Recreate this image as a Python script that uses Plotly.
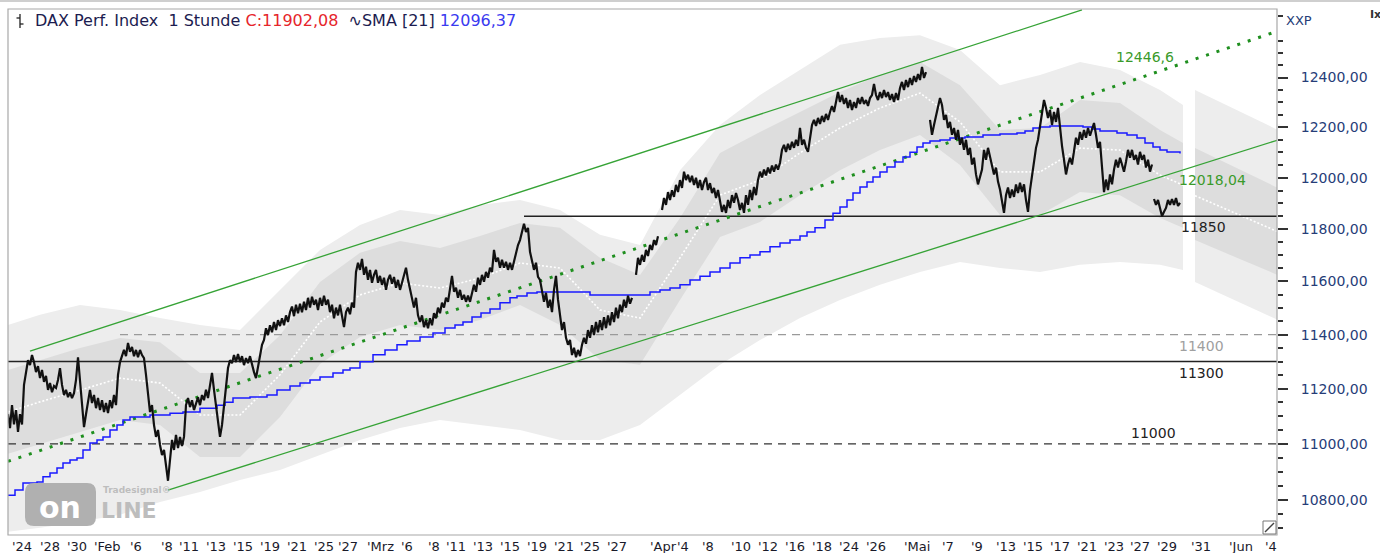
import math
import plotly.graph_objects as go

# ---------------- data ----------------
# hourly DAX path, sampled every 2 time slots, split into segments at the gaps
seg_a_start = 8
seg_a = [11107, 11057, 11140, 11070, 11122, 11043, 11107, 11070, 11214, 11269,
         11305, 11287, 11324, 11298, 11261, 11283, 11239, 11269, 11225, 11247,
         11196, 11221, 11187, 11210, 11203, 11232, 11276, 11214, 11177, 11196,
         11169, 11187, 11166, 11184, 11232,
         11316, 11232, 11122, 11060, 11107, 11158, 11196, 11148, 11177, 11129,
         11166, 11122, 11158, 11115, 11148, 11111, 11158, 11129, 11177, 11140,
         11251, 11298, 11324, 11343, 11320, 11369, 11336, 11354, 11320, 11343,
         11316, 11343, 11324, 11313, 11251, 11177, 11115, 11140, 11068, 11025,
         11050, 10996, 10960, 10978, 10925, 10868, 10942, 11014, 10978, 11032,
         10985, 11025, 10992, 11025, 11140, 11166, 11133, 11158, 11122, 11151,
         11169, 11140, 11177, 11158, 11196, 11166, 11214, 11258, 11196, 11140,
         11086, 11025, 11068, 11140, 11214, 11276, 11305, 11294, 11324, 11298,
         11328, 11298, 11320, 11287, 11313, 11294, 11320, 11287, 11261, 11239,
         11276, 11313, 11362, 11380, 11424, 11398, 11435, 11409, 11447, 11417,
         11454, 11432, 11461, 11435, 11472, 11447, 11484, 11505, 11469, 11512,
         11480, 11516, 11484, 11523, 11492, 11538, 11501, 11542, 11512, 11531,
         11492, 11538, 11508, 11546, 11512, 11531, 11484, 11512, 11461, 11501,
         11472, 11512, 11461, 11428, 11484, 11501, 11476, 11520, 11501, 11636,
         11671, 11644, 11686, 11625, 11656, 11606, 11644, 11595, 11625, 11644,
         11595, 11621, 11587, 11614, 11568, 11606, 11625, 11591, 11617, 11576,
         11606, 11568, 11595, 11625, 11652, 11606, 11568, 11531, 11501, 11538,
         11472, 11447, 11472, 11428, 11454, 11424, 11461, 11435, 11480, 11461,
         11501, 11480, 11520, 11501, 11538, 11523, 11568, 11621, 11561, 11576,
         11538, 11568, 11531, 11549, 11523, 11546, 11523, 11561, 11587, 11561,
         11614, 11587, 11625, 11599, 11636, 11614, 11652, 11636, 11720, 11675,
         11690, 11652, 11682, 11652, 11675, 11644, 11671, 11644, 11675, 11701,
         11739, 11758, 11789, 11821, 11789, 11805, 11713, 11675, 11644, 11671,
         11617, 11606, 11568, 11523, 11557, 11501, 11531, 11484, 11568, 11621,
         11531, 11461, 11417, 11447, 11388, 11362, 11380, 11324, 11351, 11316,
         11343, 11320, 11362, 11388, 11366, 11417, 11388, 11435, 11398, 11447,
         11409, 11454, 11417, 11465, 11424, 11472, 11435, 11484, 11447, 11501,
         11461, 11512, 11484, 11531, 11501, 11546, 11516, 11538]
seg_b_start = 636
seg_b = [11625, 11690, 11663, 11701, 11675, 11720, 11697, 11739, 11720, 11758,
         11739, 11773]
seg_c_start = 662
seg_c = [11874, 11921, 11894, 11944, 11913, 11951, 11925, 11972, 11944, 11991,
         11960, 12024, 11991, 12012, 11983, 12008, 11972, 12000, 11960, 11991,
         11952, 11983, 12000, 11952, 11979, 11940, 11960, 11921, 11952, 11913,
         11867, 11894, 11863, 11913, 11882, 11932, 11902, 11940, 11913, 11874,
         11902, 11863, 11932, 11894, 11952, 11913, 11964, 11932, 11991,
         12024, 12001, 12032, 12009, 12040, 12017, 12048, 12024, 12052, 12032,
         12059, 12110, 12130, 12102, 12134, 12110, 12142, 12118, 12150, 12126,
         12197, 12130, 12150, 12118, 12102, 12150, 12209, 12229, 12205, 12237,
         12213, 12245, 12221, 12253, 12229, 12261, 12285, 12261, 12309, 12341,
         12301, 12329, 12293, 12317, 12277, 12309, 12269, 12301, 12277, 12317,
         12293, 12321, 12293, 12309, 12285, 12317, 12329, 12374, 12329, 12309,
         12341, 12317, 12349, 12321, 12341, 12309, 12333, 12301, 12337, 12309,
         12357, 12382, 12349, 12390, 12361, 12398, 12370, 12406, 12382, 12414,
         12390, 12443, 12398, 12422]
seg_d_start = 930
seg_d = [12229, 12170, 12209, 12249, 12289, 12317, 12289, 12229, 12249, 12197,
         12221, 12170, 12197, 12150, 12189, 12130, 12158, 12110, 12150, 12090,
         12118, 12052, 12079, 12013, 11974, 12001, 12032, 12110, 12071, 12118,
         12079, 12052, 12013, 12040, 11985, 11954, 11913, 11863, 11932, 11962,
         11921, 11954, 11925, 11974, 11940, 11981, 11944, 11974, 11913, 11867,
         11952, 12013, 12071, 12118, 12150, 12209, 12269, 12309, 12277, 12237,
         12269, 12209, 12261, 12221, 12277, 12197, 12126, 12071, 12013, 12052,
         12079, 12052, 12110, 12158, 12130, 12181, 12150, 12189, 12158, 12197,
         12166, 12189, 12217, 12170, 12118, 12142, 12052, 11944, 11993, 11952,
         12013, 11974, 12032, 12071, 12040, 12079, 12052, 12024, 12063, 12110,
         12079, 12110, 12071, 12090, 12052, 12102, 12071, 12090, 12040, 12071,
         12024, 12052]
seg_e_start = 1154
seg_e = [11917, 11894, 11913, 11874, 11850, 11867, 11882, 11913, 11894, 11917,
         11894, 11921, 11890, 11902]

# SMA 21 (step values)
sma_x = [8, 15, 23, 37, 43, 50, 57, 63, 70, 77, 83, 90, 97, 103, 110, 117, 123,
         130, 150, 170, 183, 200, 217, 225, 233, 250, 267, 277, 290, 300, 310,
         320, 333, 343, 350, 360, 373, 385, 397, 407, 420, 433, 445, 455, 463,
         472, 481, 490, 500, 510, 517, 527, 537, 590, 650, 660, 670, 680, 690,
         700, 710, 720, 730, 740, 750, 760, 770, 780, 790, 800, 807, 815, 825,
         833, 840, 847, 853, 860, 867, 873, 880, 887, 895, 903, 910, 917, 923,
         930, 940, 950, 965, 983, 1000, 1017, 1025, 1033, 1040, 1050, 1083,
         1092, 1100, 1117, 1127, 1137, 1145, 1153, 1160, 1167, 1180]
sma_y = [10817, 10835, 10860, 10864, 10882, 10896, 10913, 10931, 10942, 10949,
         10978, 11003, 11014, 11025, 11050, 11068, 11086, 11097, 11104, 11111,
         11115, 11129, 11140, 11151, 11166, 11170, 11177, 11195, 11210, 11221,
         11232, 11243, 11258, 11269, 11276, 11299, 11325, 11343, 11362, 11376,
         11391, 11406, 11425, 11436, 11447, 11466, 11481, 11496, 11519, 11538,
         11545, 11556, 11560, 11549, 11560, 11568, 11575, 11587, 11605, 11620,
         11636, 11651, 11670, 11690, 11701, 11713, 11732, 11747, 11758, 11774,
         11789, 11805, 11835, 11862, 11886, 11913, 11940, 11964, 11983, 12003,
         12023, 12042, 12062, 12082, 12101, 12121, 12137, 12145, 12149, 12157,
         12161, 12169, 12173, 12177, 12185, 12197, 12201, 12205, 12201, 12193,
         12185, 12177, 12169, 12157, 12137, 12121, 12109, 12102, 12096]

# volatility bands (outer / inner envelope and centre)
band_x = [8, 40, 80, 120, 160, 200, 240, 280, 320, 360, 400, 440, 480, 520, 560,
          600, 640, 680, 720, 760, 800, 840, 880, 920, 960, 1000, 1040, 1080,
          1120, 1160, 1183]
outer_hi = [11436, 11474, 11511, 11492, 11462, 11436, 11417, 11568, 11720, 11816,
            11874, 11855, 11894, 11913, 11874, 11778, 11739, 12030, 12209, 12329,
            12430, 12533, 12561, 12573, 12512, 12369, 12410, 12463, 12430, 12349,
            12289]
outer_lo = [10688, 10702, 10723, 10748, 10793, 10828, 10871, 10906, 10960, 11014,
            11057, 11086, 11068, 11050, 11014, 11014, 11068, 11177, 11288, 11380,
            11462, 11530, 11587, 11636, 11674, 11651, 11636, 11663, 11674, 11663,
            11643]
inner_hi = [11269, 11306, 11350, 11387, 11372, 11258, 11258, 11398, 11598, 11709,
            11754, 11728, 11774, 11824, 11805, 11690, 11624, 11843, 12098, 12181,
            12261, 12341, 12410, 12463, 12369, 12189, 12197, 12309, 12297, 12189,
            12137]
center = [11115, 11152, 11195, 11239, 11221, 11104, 11104, 11251, 11447, 11549,
          11594, 11575, 11613, 11670, 11651, 11492, 11462, 11690, 11932, 11991,
          12098, 12197, 12277, 12337, 12221, 12023, 12023, 12117, 12109, 12011,
          11971]
inner_lo = [10964, 10999, 11043, 11086, 11068, 10953, 10953, 11097, 11291, 11391,
            11436, 11417, 11455, 11511, 11436, 11306, 11288, 11530, 11770, 11828,
            11932, 12030, 12109, 12169, 12050, 11855, 11855, 11944, 11932, 11843,
            11805]
# projection cone right of the last bar
fc_x = [1195, 1278]
fc_outer_hi = [12349, 12189]
fc_inner_hi = [12117, 11960]
fc_center = [11930, 11790]
fc_inner_lo = [11758, 11624]
fc_outer_lo = [11598, 11455]

# trend channel and regression line
chan_up_x, chan_up_y = [30, 1082], [11339, 12677]
chan_lo_x, chan_lo_y = [168, 1278], [10835, 12149]
mid_x, mid_y = [8, 1278], [10937, 12590]

# horizontal levels
lvl_11850_x = [524, 1278]
lvl_11400_x = [120, 1278]
lvl_full_x = [8, 1278]

y_ticks = [10800, 11000, 11200, 11400, 11600, 11800, 12000, 12200, 12400]
x_tick_pos = [10, 38, 65, 92, 128, 159, 177, 204, 231, 258, 285, 312, 336, 365, 399,
              426, 444, 471, 498, 525, 552, 578, 605, 648, 675, 700, 729, 756, 783,
              810, 837, 864, 902, 940, 969, 994, 1021, 1048, 1075, 1102, 1128, 1155,
              1189, 1227, 1263]
x_tick_text = ['24', '28', '30', 'Feb', '6', '8', '11', '13', '15', '19', '21', '25',
               '27', 'Mrz', '6', '8', '11', '13', '15', '19', '21', '25', '27', 'Apr',
               '4', '8', '10', '12', '16', '18', '24', '26', 'Mai', '7', '9', '13',
               '15', '17', '21', '23', '27', '29', '31', 'Jun', '4']

# ---------------- layout helpers ----------------
W, H = 1380, 553
ML, MR, MT, MB = 8, 103, 9, 18
PW, PH = W - ML - MR, H - MT - MB


def px2x(px):
    return (px - ML) / PW


def py2y(py):
    return (H - MB - py) / PH


FONT = "DejaVu Sans"
NAVY = "#263d78"

price_x, price_y = [], []
for start, seg in [(seg_a_start, seg_a), (seg_b_start, seg_b), (seg_c_start, seg_c),
                   (seg_d_start, seg_d), (seg_e_start, seg_e)]:
    if price_x:
        price_x.append(start - 1)
        price_y.append(None)
    price_x.extend(range(start, start + 2 * len(seg), 2))
    price_y.extend(seg)

fig = go.Figure()


def band(xs, lo, hi, color):
    fig.add_trace(go.Scatter(x=xs, y=lo, mode="lines", line=dict(width=0),
                             hoverinfo="skip", showlegend=False))
    fig.add_trace(go.Scatter(x=xs, y=hi, mode="lines", line=dict(width=0),
                             fill="tonexty", fillcolor=color, hoverinfo="skip",
                             showlegend=False))


band(band_x, outer_lo, outer_hi, "#ededed")
band(fc_x, fc_outer_lo, fc_outer_hi, "#ededed")
band(band_x, inner_lo, inner_hi, "#dddddd")
band(fc_x, fc_inner_lo, fc_inner_hi, "#dddddd")
for xs, ys in [(band_x, center), (fc_x, fc_center)]:
    fig.add_trace(go.Scatter(x=xs, y=ys, mode="lines",
                             line=dict(color="#ffffff", width=1.6, dash="2px,2px"),
                             showlegend=False))


def hline(xs, level, color, width, dash="solid"):
    fig.add_trace(go.Scatter(x=xs, y=[level, level], mode="lines",
                             line=dict(color=color, width=width, dash=dash),
                             showlegend=False))


hline(lvl_11400_x, 11400, "#9a9a9a", 1.2, "8px,6px")
hline(lvl_full_x, 11000, "#333333", 1.2, "8px,6px")
hline(lvl_full_x, 11300, "#222222", 1.5)
hline(lvl_11850_x, 11850, "#222222", 1.5)

fig.add_trace(go.Scatter(x=chan_up_x, y=chan_up_y, mode="lines",
                         line=dict(color="#36a336", width=1.3), showlegend=False))
fig.add_trace(go.Scatter(x=chan_lo_x, y=chan_lo_y, mode="lines",
                         line=dict(color="#36a336", width=1.3), showlegend=False))
fig.add_trace(go.Scatter(x=mid_x, y=mid_y, mode="lines",
                         line=dict(color="#1f8f1f", width=3, dash="3px,8px"),
                         showlegend=False))

fig.add_trace(go.Scatter(x=sma_x, y=sma_y, mode="lines", line_shape="hv",
                         line=dict(color="#1a1aff", width=1.5), showlegend=False))
fig.add_trace(go.Scatter(x=price_x, y=price_y, mode="lines", connectgaps=False,
                         line=dict(color="#111111", width=2.2), showlegend=False))

minor_vals = [v for v in range(10700, 12700, 50) if v % 200 != 0]

fig.update_layout(
    width=W, height=H, margin=dict(l=ML, r=MR, t=MT, b=MB),
    paper_bgcolor="white", plot_bgcolor="white", showlegend=False,
    font=dict(family=FONT, size=13, color=NAVY),
    xaxis=dict(range=[ML, W - MR], showgrid=False, zeroline=False,
               showticklabels=False, ticks="", fixedrange=True),
    yaxis=dict(type="log", side="right",
               range=[math.log10(10676.9), math.log10(12680.9)],
               tickvals=y_ticks,
               ticktext=[f"{v:.2f}".replace(".", ",") for v in y_ticks],
               tickfont=dict(family=FONT, size=14, color=NAVY),
               ticks="outside", ticklen=10, tickwidth=1.5, tickcolor="#333333",
               ticklabelstandoff=10,
               minor=dict(tickmode="array", tickvals=minor_vals, ticks="outside",
                          ticklen=5, tickwidth=1.5, tickcolor="#333333"),
               showgrid=False, zeroline=False, showline=False),
)

shapes = [
    dict(type="rect", xref="paper", yref="paper", x0=0, y0=0, x1=1, y1=1,
         line=dict(color="#a8a8a8", width=1.2)),
    dict(type="line", xref="paper", yref="paper", x0=px2x(0), x1=px2x(W),
         y0=py2y(1), y1=py2y(1), line=dict(color="#cfcfcf", width=2)),
    # OHLC glyph in title
    dict(type="line", xref="paper", yref="paper", x0=px2x(20), x1=px2x(20),
         y0=py2y(14), y1=py2y(28), line=dict(color="#222", width=1.3)),
    dict(type="line", xref="paper", yref="paper", x0=px2x(16.5), x1=px2x(20),
         y0=py2y(18), y1=py2y(18), line=dict(color="#222", width=1.3)),
    dict(type="line", xref="paper", yref="paper", x0=px2x(20), x1=px2x(23.5),
         y0=py2y(24), y1=py2y(24), line=dict(color="#222", width=1.3)),
    # corner icon
    dict(type="rect", xref="paper", yref="paper", x0=px2x(1263), x1=px2x(1276),
         y0=py2y(534), y1=py2y(521), line=dict(color="#777", width=1),
         fillcolor="white"),
    dict(type="line", xref="paper", yref="paper", x0=px2x(1265), x1=px2x(1274),
         y0=py2y(532), y1=py2y(523), line=dict(color="#444", width=1.5)),
]
# watermark rounded box
x0, x1, ya, yb, r = 25, 96, 483, 526, 9
path = (f"M {px2x(x0 + r)},{py2y(ya)} L {px2x(x1 - r)},{py2y(ya)} "
        f"Q {px2x(x1)},{py2y(ya)} {px2x(x1)},{py2y(ya + r)} "
        f"L {px2x(x1)},{py2y(yb - r)} Q {px2x(x1)},{py2y(yb)} {px2x(x1 - r)},{py2y(yb)} "
        f"L {px2x(x0 + r)},{py2y(yb)} Q {px2x(x0)},{py2y(yb)} {px2x(x0)},{py2y(yb - r)} "
        f"L {px2x(x0)},{py2y(ya + r)} Q {px2x(x0)},{py2y(ya)} {px2x(x0 + r)},{py2y(ya)} Z")
shapes.append(dict(type="path", xref="paper", yref="paper", path=path,
                   fillcolor="#b0b0b0", line=dict(width=0), layer="above"))
fig.update_layout(shapes=shapes)

ann = []
title = ('<span style="color:#1c1c50">DAX Perf. Index  1 Stunde </span>'
         '<span style="color:#e6252b">C:11902,08</span>'
         '<span style="color:#1c1c50">  ∿SMA [21] </span>'
         '<span style="color:#3a3af0">12096,37</span>')
ann.append(dict(text=title, xref="paper", yref="paper", x=px2x(33), y=py2y(21),
                xanchor="left", yanchor="middle", showarrow=False,
                font=dict(family=FONT, size=16)))
ann.append(dict(text="XXP", xref="paper", yref="paper", x=px2x(1284), y=py2y(20),
                xanchor="left", yanchor="middle", showarrow=False,
                font=dict(family=FONT, size=13, color=NAVY)))
ann.append(dict(text="<b>Ix</b>", xref="paper", yref="paper", x=px2x(1368), y=py2y(14),
                xanchor="left", yanchor="middle", showarrow=False,
                font=dict(family=FONT, size=11, color="#333")))
for pos, txt in zip(x_tick_pos, x_tick_text):
    ann.append(dict(text="'" + txt, xref="x", yref="paper", x=pos, y=0,
                    xanchor="left", yanchor="top", yshift=-2, showarrow=False,
                    font=dict(family=FONT, size=13, color="#1a1a2a")))

lvl_labels = [("11850", 1179, 11850, "top", "#222222", -1),
              ("11400", 1177, 11400, "top", "#a0a0a0", -1),
              ("11300", 1177, 11300, "top", "#222222", -1),
              ("11000", 1129, 11000, "bottom", "#222222", 1)]
for txt, x, lvl, anc, col, sh in lvl_labels:
    ann.append(dict(text=txt, xref="x", yref="y", x=x, y=math.log10(lvl),
                    xanchor="left", yanchor=anc, yshift=sh, showarrow=False,
                    font=dict(family=FONT, size=14, color=col)))
ann.append(dict(text="12018,04", xref="x", yref="y", x=1177, y=math.log10(11991),
                xanchor="left", yanchor="middle", showarrow=False,
                font=dict(family=FONT, size=14, color="#3a9a2a")))
ann.append(dict(text="12446,6", xref="x", yref="y", x=1114, y=math.log10(12483),
                xanchor="left", yanchor="middle", showarrow=False,
                font=dict(family=FONT, size=14, color="#3a9a2a")))
# watermark text
ann.append(dict(text="<b>on</b>", xref="paper", yref="paper", x=px2x(60), y=py2y(507),
                xanchor="center", yanchor="middle", showarrow=False,
                font=dict(family=FONT, size=30, color="white")))
ann.append(dict(text="<b>LINE</b>", xref="paper", yref="paper", x=px2x(99), y=py2y(510),
                xanchor="left", yanchor="middle", showarrow=False,
                font=dict(family=FONT, size=22, color="#bdbdbd")))
ann.append(dict(text="<b>Tradesignal®</b>", xref="paper", yref="paper", x=px2x(101),
                y=py2y(490), xanchor="left", yanchor="middle", showarrow=False,
                font=dict(family=FONT, size=9, color="#bdbdbd")))
fig.update_layout(annotations=ann)

fig.write_html("out.html", config={"displayModeBar": False},
               post_script="document.body.style.margin='0';"
                           "document.body.style.overflow='hidden';")
